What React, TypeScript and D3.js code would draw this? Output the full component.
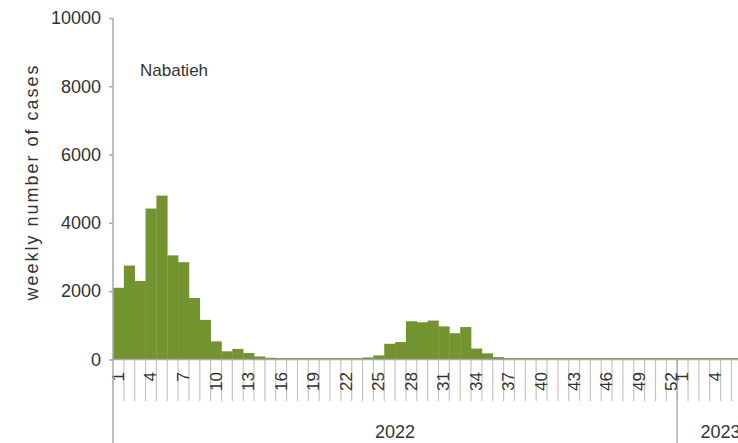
import { useEffect, useRef } from "react";
import * as d3 from "d3";

// weekly cases, Nabatieh
const years = ["2022", "2023"];
const weeks2022 = d3.range(1, 53);
const weeks2023 = [1, 2, 3, 4, 5, 6, 7, 8];
const cases2022 = [
  2100, 2750, 2300, 4420, 4800, 3050, 2850, 1800, 1160, 530,
  240, 310, 190, 90, 50, 40, 40, 40, 40, 40,
  40, 40, 40, 60, 120, 460, 510, 1120, 1090, 1140,
  970, 770, 950, 320, 180, 70, 40, 40, 40, 40,
  40, 40, 40, 40, 40, 40, 40, 40, 40, 40,
  40, 40,
];
const cases2023 = [40, 40, 40, 40, 40, 40, 40, 40];
const yTicks = [0, 2000, 4000, 6000, 8000, 10000];

const App = () => {
  const svgRef = useRef<SVGSVGElement | null>(null);

  useEffect(() => {
    const svg = d3.select(svgRef.current);
    svg.selectAll("*").remove();

    const width = 738;
    const height = 443;
    const left = 113;
    const top = 18;
    const base = 359.5;
    const band = 10.85;
    const font = "'Liberation Sans', Arial, sans-serif";

    const data = [
      ...weeks2022.map((w, i) => ({ year: years[0], week: w, value: cases2022[i] })),
      ...weeks2023.map((w, i) => ({ year: years[1], week: w, value: cases2023[i] })),
    ];
    const key = (d: { year: string; week: number }) => `${d.year}-${d.week}`;

    const x = d3
      .scaleBand()
      .domain(data.map(key))
      .range([left, left + data.length * band])
      .padding(0);

    const y = d3.scaleLinear().domain([0, 10000]).range([base, top]);

    svg.attr("width", width).attr("height", height);

    // bars
    svg
      .append("g")
      .selectAll("rect")
      .data(data)
      .enter()
      .append("rect")
      .attr("x", (d) => x(key(d)) as number)
      .attr("y", (d) => y(d.value))
      .attr("width", x.bandwidth() + 0.3)
      .attr("height", (d) => base - y(d.value))
      .attr("fill", "#739330");

    // category separators
    svg
      .append("g")
      .selectAll("line")
      .data(data.slice(1))
      .enter()
      .append("line")
      .attr("x1", (d) => x(key(d)) as number)
      .attr("x2", (d) => x(key(d)) as number)
      .attr("y1", base)
      .attr("y2", 401)
      .attr("stroke", "#c4c4c4")
      .attr("stroke-width", 1.2);

    // year separators
    const yearStart = years.map((yr) => x(key(data.find((d) => d.year === yr)!)) as number);
    svg
      .append("g")
      .selectAll("line")
      .data(yearStart.slice(1))
      .enter()
      .append("line")
      .attr("x1", (d) => d)
      .attr("x2", (d) => d)
      .attr("y1", base)
      .attr("y2", height)
      .attr("stroke", "#b0b0b0")
      .attr("stroke-width", 1.5);

    // week labels every 3
    svg
      .append("g")
      .selectAll("text")
      .data(data.filter((d) => (d.week - 1) % 3 === 0))
      .enter()
      .append("text")
      .attr(
        "transform",
        (d) => `translate(${(x(key(d)) as number) + x.bandwidth() / 2 - 0.5},372) rotate(-90)`
      )
      .attr("text-anchor", "end")
      .attr("dy", "0.35em")
      .attr("font-family", font)
      .attr("font-size", 17)
      .attr("fill", "#333")
      .text((d) => d.week);

    // year labels
    svg
      .append("g")
      .selectAll("text")
      .data(years)
      .enter()
      .append("text")
      .attr("x", (yr) => {
        const ds = data.filter((d) => d.year === yr);
        const a = x(key(ds[0])) as number;
        const b = (x(key(ds[ds.length - 1])) as number) + x.bandwidth();
        return (a + b) / 2;
      })
      .attr("y", 438)
      .attr("text-anchor", "middle")
      .attr("font-family", font)
      .attr("font-size", 18)
      .attr("fill", "#333")
      .text((yr) => yr);

    // x axis line
    svg
      .append("line")
      .attr("x1", left)
      .attr("x2", width)
      .attr("y1", base)
      .attr("y2", base)
      .attr("stroke", "#a8a8a8")
      .attr("stroke-width", 1.5);

    // y axis
    const yAxis = svg
      .append("g")
      .attr("transform", `translate(${left},0)`)
      .call(
        d3
          .axisLeft(y)
          .tickValues(yTicks)
          .tickFormat(d3.format("d"))
          .tickSize(4)
          .tickPadding(8)
          .tickSizeOuter(0)
      );
    yAxis.select(".domain").remove();
    yAxis.selectAll(".tick line").attr("stroke", "#a8a8a8").attr("stroke-width", 1.5);
    yAxis
      .selectAll(".tick text")
      .attr("font-family", font)
      .attr("font-size", 18)
      .attr("fill", "#333");
    svg
      .append("line")
      .attr("x1", left)
      .attr("x2", left)
      .attr("y1", top)
      .attr("y2", height)
      .attr("stroke", "#a8a8a8")
      .attr("stroke-width", 1.5);

    // y title
    svg
      .append("text")
      .attr("transform", "translate(38,182) rotate(-90)")
      .attr("text-anchor", "middle")
      .attr("font-family", font)
      .attr("font-size", 18)
      .attr("letter-spacing", 2)
      .attr("fill", "#333")
      .text("weekly number of cases");

    svg
      .append("text")
      .attr("x", 140)
      .attr("y", 76)
      .attr("font-family", font)
      .attr("font-size", 17)
      .attr("fill", "#333")
      .text("Nabatieh");
  }, []);

  return (
    <svg
      ref={svgRef}
      style={{ position: "absolute", left: 0, top: 0, background: "#fff" }}
    ></svg>
  );
};

export default App;
